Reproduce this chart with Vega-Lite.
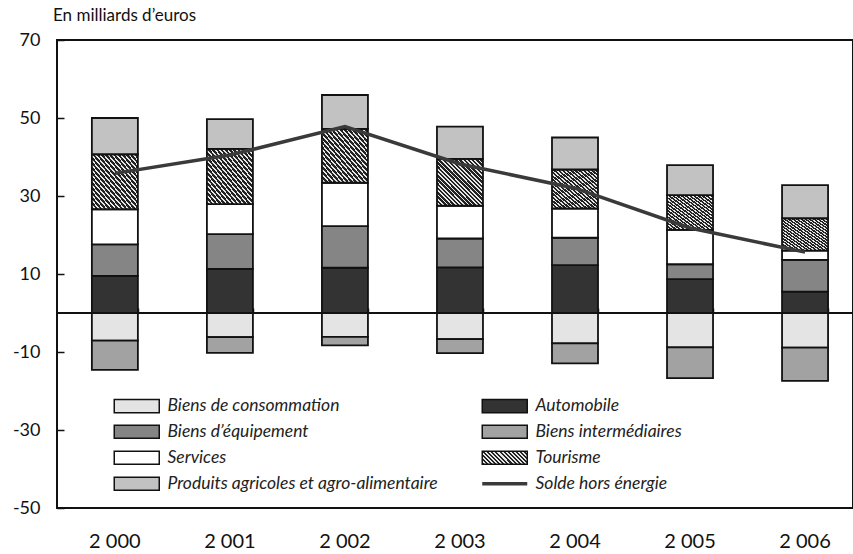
{
  "$schema": "https://vega.github.io/schema/vega-lite/v6.json",
  "width": 796,
  "height": 468,
  "autosize": {"type": "none"},
  "padding": {"left": 57, "top": 40, "right": 0, "bottom": 46},
  "background": "white",
  "config": {
    "view": {"stroke": "#111", "strokeWidth": 2},
    "font": "Lato",
    "axisY": {"grid": false, "domain": false, "tickSize": -7, "tickColor": "#111", "tickWidth": 1.5, "labelFont": "Lato", "labelFontSize": 18, "labelColor": "#111", "labelPadding": 24},
    "axisX": {"grid": false, "labelFont": "Lato", "labelFontSize": 20, "labelColor": "#111"}
  },
  "params": [
    {"name": "hatch", "value": {"gradient": "linear", "x1": 0, "y1": 1, "x2": 1, "y2": 0, "stops": [
      {"offset": 0, "color": "#222222"}, {"offset": 0.0273, "color": "#222222"}, {"offset": 0.0273, "color": "#e6e6e6"}, {"offset": 0.0455, "color": "#e6e6e6"},
      {"offset": 0.0455, "color": "#222222"}, {"offset": 0.0727, "color": "#222222"}, {"offset": 0.0727, "color": "#e6e6e6"}, {"offset": 0.0909, "color": "#e6e6e6"},
      {"offset": 0.0909, "color": "#222222"}, {"offset": 0.1182, "color": "#222222"}, {"offset": 0.1182, "color": "#e6e6e6"}, {"offset": 0.1364, "color": "#e6e6e6"},
      {"offset": 0.1364, "color": "#222222"}, {"offset": 0.1636, "color": "#222222"}, {"offset": 0.1636, "color": "#e6e6e6"}, {"offset": 0.1818, "color": "#e6e6e6"},
      {"offset": 0.1818, "color": "#222222"}, {"offset": 0.2091, "color": "#222222"}, {"offset": 0.2091, "color": "#e6e6e6"}, {"offset": 0.2273, "color": "#e6e6e6"},
      {"offset": 0.2273, "color": "#222222"}, {"offset": 0.2545, "color": "#222222"}, {"offset": 0.2545, "color": "#e6e6e6"}, {"offset": 0.2727, "color": "#e6e6e6"},
      {"offset": 0.2727, "color": "#222222"}, {"offset": 0.3, "color": "#222222"}, {"offset": 0.3, "color": "#e6e6e6"}, {"offset": 0.3182, "color": "#e6e6e6"},
      {"offset": 0.3182, "color": "#222222"}, {"offset": 0.3455, "color": "#222222"}, {"offset": 0.3455, "color": "#e6e6e6"}, {"offset": 0.3636, "color": "#e6e6e6"},
      {"offset": 0.3636, "color": "#222222"}, {"offset": 0.3909, "color": "#222222"}, {"offset": 0.3909, "color": "#e6e6e6"}, {"offset": 0.4091, "color": "#e6e6e6"},
      {"offset": 0.4091, "color": "#222222"}, {"offset": 0.4364, "color": "#222222"}, {"offset": 0.4364, "color": "#e6e6e6"}, {"offset": 0.4545, "color": "#e6e6e6"},
      {"offset": 0.4545, "color": "#222222"}, {"offset": 0.4818, "color": "#222222"}, {"offset": 0.4818, "color": "#e6e6e6"}, {"offset": 0.5, "color": "#e6e6e6"},
      {"offset": 0.5, "color": "#222222"}, {"offset": 0.5273, "color": "#222222"}, {"offset": 0.5273, "color": "#e6e6e6"}, {"offset": 0.5455, "color": "#e6e6e6"},
      {"offset": 0.5455, "color": "#222222"}, {"offset": 0.5727, "color": "#222222"}, {"offset": 0.5727, "color": "#e6e6e6"}, {"offset": 0.5909, "color": "#e6e6e6"},
      {"offset": 0.5909, "color": "#222222"}, {"offset": 0.6182, "color": "#222222"}, {"offset": 0.6182, "color": "#e6e6e6"}, {"offset": 0.6364, "color": "#e6e6e6"},
      {"offset": 0.6364, "color": "#222222"}, {"offset": 0.6636, "color": "#222222"}, {"offset": 0.6636, "color": "#e6e6e6"}, {"offset": 0.6818, "color": "#e6e6e6"},
      {"offset": 0.6818, "color": "#222222"}, {"offset": 0.7091, "color": "#222222"}, {"offset": 0.7091, "color": "#e6e6e6"}, {"offset": 0.7273, "color": "#e6e6e6"},
      {"offset": 0.7273, "color": "#222222"}, {"offset": 0.7545, "color": "#222222"}, {"offset": 0.7545, "color": "#e6e6e6"}, {"offset": 0.7727, "color": "#e6e6e6"},
      {"offset": 0.7727, "color": "#222222"}, {"offset": 0.8, "color": "#222222"}, {"offset": 0.8, "color": "#e6e6e6"}, {"offset": 0.8182, "color": "#e6e6e6"},
      {"offset": 0.8182, "color": "#222222"}, {"offset": 0.8455, "color": "#222222"}, {"offset": 0.8455, "color": "#e6e6e6"}, {"offset": 0.8636, "color": "#e6e6e6"},
      {"offset": 0.8636, "color": "#222222"}, {"offset": 0.8909, "color": "#222222"}, {"offset": 0.8909, "color": "#e6e6e6"}, {"offset": 0.9091, "color": "#e6e6e6"},
      {"offset": 0.9091, "color": "#222222"}, {"offset": 0.9364, "color": "#222222"}, {"offset": 0.9364, "color": "#e6e6e6"}, {"offset": 0.9545, "color": "#e6e6e6"},
      {"offset": 0.9545, "color": "#222222"}, {"offset": 0.9818, "color": "#222222"}, {"offset": 0.9818, "color": "#e6e6e6"}, {"offset": 1, "color": "#e6e6e6"}
    ]}},
    {"name": "hatchL", "value": {"gradient": "linear", "x1": 0, "y1": 1, "x2": 1.19, "y2": 0.656, "stops": [
      {"offset": 0, "color": "#222222"}, {"offset": 0.0357, "color": "#222222"}, {"offset": 0.0357, "color": "#e6e6e6"}, {"offset": 0.0714, "color": "#e6e6e6"},
      {"offset": 0.0714, "color": "#222222"}, {"offset": 0.1071, "color": "#222222"}, {"offset": 0.1071, "color": "#e6e6e6"}, {"offset": 0.1429, "color": "#e6e6e6"},
      {"offset": 0.1429, "color": "#222222"}, {"offset": 0.1786, "color": "#222222"}, {"offset": 0.1786, "color": "#e6e6e6"}, {"offset": 0.2143, "color": "#e6e6e6"},
      {"offset": 0.2143, "color": "#222222"}, {"offset": 0.25, "color": "#222222"}, {"offset": 0.25, "color": "#e6e6e6"}, {"offset": 0.2857, "color": "#e6e6e6"},
      {"offset": 0.2857, "color": "#222222"}, {"offset": 0.3214, "color": "#222222"}, {"offset": 0.3214, "color": "#e6e6e6"}, {"offset": 0.3571, "color": "#e6e6e6"},
      {"offset": 0.3571, "color": "#222222"}, {"offset": 0.3929, "color": "#222222"}, {"offset": 0.3929, "color": "#e6e6e6"}, {"offset": 0.4286, "color": "#e6e6e6"},
      {"offset": 0.4286, "color": "#222222"}, {"offset": 0.4643, "color": "#222222"}, {"offset": 0.4643, "color": "#e6e6e6"}, {"offset": 0.5, "color": "#e6e6e6"},
      {"offset": 0.5, "color": "#222222"}, {"offset": 0.5357, "color": "#222222"}, {"offset": 0.5357, "color": "#e6e6e6"}, {"offset": 0.5714, "color": "#e6e6e6"},
      {"offset": 0.5714, "color": "#222222"}, {"offset": 0.6071, "color": "#222222"}, {"offset": 0.6071, "color": "#e6e6e6"}, {"offset": 0.6429, "color": "#e6e6e6"},
      {"offset": 0.6429, "color": "#222222"}, {"offset": 0.6786, "color": "#222222"}, {"offset": 0.6786, "color": "#e6e6e6"}, {"offset": 0.7143, "color": "#e6e6e6"},
      {"offset": 0.7143, "color": "#222222"}, {"offset": 0.75, "color": "#222222"}, {"offset": 0.75, "color": "#e6e6e6"}, {"offset": 0.7857, "color": "#e6e6e6"},
      {"offset": 0.7857, "color": "#222222"}, {"offset": 0.8214, "color": "#222222"}, {"offset": 0.8214, "color": "#e6e6e6"}, {"offset": 0.8571, "color": "#e6e6e6"},
      {"offset": 0.8571, "color": "#222222"}, {"offset": 0.8929, "color": "#222222"}, {"offset": 0.8929, "color": "#e6e6e6"}, {"offset": 0.9286, "color": "#e6e6e6"},
      {"offset": 0.9286, "color": "#222222"}, {"offset": 0.9643, "color": "#222222"}, {"offset": 0.9643, "color": "#e6e6e6"}, {"offset": 1, "color": "#e6e6e6"}
    ]}}
  ],
  "title": {"text": "En milliards d’euros", "anchor": "start", "frame": "group", "font": "Lato", "fontSize": 17, "fontWeight": "normal", "color": "#111", "offset": 6, "dx": -4},
  "datasets": {
    "bars": [
      {"year": "2 000", "cat": "Biens de consommation", "v": -7.1},
      {"year": "2 000", "cat": "Automobile", "v": 9.5},
      {"year": "2 000", "cat": "Biens d’équipement", "v": 8.1},
      {"year": "2 000", "cat": "Biens intermédiaires", "v": -7.5},
      {"year": "2 000", "cat": "Services", "v": 9.0},
      {"year": "2 000", "cat": "Tourisme", "v": 14.1},
      {"year": "2 000", "cat": "Produits agricoles et agro-alimentaire", "v": 9.3},
      {"year": "2 001", "cat": "Biens de consommation", "v": -6.2},
      {"year": "2 001", "cat": "Automobile", "v": 11.3},
      {"year": "2 001", "cat": "Biens d’équipement", "v": 8.9},
      {"year": "2 001", "cat": "Biens intermédiaires", "v": -4.0},
      {"year": "2 001", "cat": "Services", "v": 7.7},
      {"year": "2 001", "cat": "Tourisme", "v": 14.2},
      {"year": "2 001", "cat": "Produits agricoles et agro-alimentaire", "v": 7.6},
      {"year": "2 002", "cat": "Biens de consommation", "v": -6.1},
      {"year": "2 002", "cat": "Automobile", "v": 11.6},
      {"year": "2 002", "cat": "Biens d’équipement", "v": 10.7},
      {"year": "2 002", "cat": "Biens intermédiaires", "v": -2.2},
      {"year": "2 002", "cat": "Services", "v": 11.1},
      {"year": "2 002", "cat": "Tourisme", "v": 13.8},
      {"year": "2 002", "cat": "Produits agricoles et agro-alimentaire", "v": 8.7},
      {"year": "2 003", "cat": "Biens de consommation", "v": -6.7},
      {"year": "2 003", "cat": "Automobile", "v": 11.7},
      {"year": "2 003", "cat": "Biens d’équipement", "v": 7.4},
      {"year": "2 003", "cat": "Biens intermédiaires", "v": -3.6},
      {"year": "2 003", "cat": "Services", "v": 8.4},
      {"year": "2 003", "cat": "Tourisme", "v": 12.0},
      {"year": "2 003", "cat": "Produits agricoles et agro-alimentaire", "v": 8.3},
      {"year": "2 004", "cat": "Biens de consommation", "v": -7.8},
      {"year": "2 004", "cat": "Automobile", "v": 12.3},
      {"year": "2 004", "cat": "Biens d’équipement", "v": 7.0},
      {"year": "2 004", "cat": "Biens intermédiaires", "v": -5.1},
      {"year": "2 004", "cat": "Services", "v": 7.5},
      {"year": "2 004", "cat": "Tourisme", "v": 10.0},
      {"year": "2 004", "cat": "Produits agricoles et agro-alimentaire", "v": 8.2},
      {"year": "2 005", "cat": "Biens de consommation", "v": -8.8},
      {"year": "2 005", "cat": "Automobile", "v": 8.7},
      {"year": "2 005", "cat": "Biens d’équipement", "v": 3.8},
      {"year": "2 005", "cat": "Biens intermédiaires", "v": -7.9},
      {"year": "2 005", "cat": "Services", "v": 8.8},
      {"year": "2 005", "cat": "Tourisme", "v": 8.9},
      {"year": "2 005", "cat": "Produits agricoles et agro-alimentaire", "v": 7.7},
      {"year": "2 006", "cat": "Biens de consommation", "v": -8.9},
      {"year": "2 006", "cat": "Automobile", "v": 5.5},
      {"year": "2 006", "cat": "Biens d’équipement", "v": 8.1},
      {"year": "2 006", "cat": "Biens intermédiaires", "v": -8.5},
      {"year": "2 006", "cat": "Services", "v": 2.4},
      {"year": "2 006", "cat": "Tourisme", "v": 8.3},
      {"year": "2 006", "cat": "Produits agricoles et agro-alimentaire", "v": 8.5}
    ],
    "solde": [
      {"year": "2 000", "v": 35.8},
      {"year": "2 001", "v": 40.5},
      {"year": "2 002", "v": 47.8},
      {"year": "2 003", "v": 38.2},
      {"year": "2 004", "v": 32.0},
      {"year": "2 005", "v": 21.8},
      {"year": "2 006", "v": 15.6}
    ],
    "zero": [{"v": 0}]
  },
  "layer": [
    {
      "data": {"name": "zero"},
      "mark": {"type": "rule", "stroke": "#111", "strokeWidth": 2},
      "encoding": {"y": {"field": "v", "type": "quantitative", "title": null}}
    },
    {
      "data": {"name": "bars"},
      "transform": [
        {"calculate": "indexof(['Biens de consommation','Automobile','Biens d’équipement','Biens intermédiaires','Services','Tourisme','Produits agricoles et agro-alimentaire'], datum.cat)", "as": "rank"}
      ],
      "mark": {"type": "bar", "stroke": "#111", "strokeWidth": 1.8},
      "encoding": {
        "x": {
          "field": "year", "type": "ordinal",
          "scale": {"paddingInner": 0.6, "paddingOuter": 0.26, "align": 0.583},
          "axis": {"orient": "bottom", "title": null, "domain": false, "ticks": false, "labelAngle": 0, "labelPadding": 23}
        },
        "y": {
          "field": "v", "type": "quantitative", "stack": "zero", "title": null,
          "scale": {"domain": [-50, 70], "nice": false, "zero": false},
          "axis": {"values": [-50, -30, -10, 10, 30, 50, 70], "labelExpr": "toString(datum.value)"}
        },
        "color": {
          "field": "cat", "type": "nominal",
          "condition": {"test": "datum.cat === 'Tourisme'", "value": {"expr": "hatch"}},
          "scale": {
            "domain": ["Biens de consommation", "Biens d’équipement", "Services", "Produits agricoles et agro-alimentaire", "Automobile", "Biens intermédiaires", "Tourisme", "Solde hors énergie"],
            "range": ["#e4e4e4", "#858585", "#ffffff", "#c2c2c2", "#333333", "#a2a2a2", {"expr": "hatchL"}, "#3a3a3a"]
          },
          "legend": {
            "orient": "none", "legendX": 56, "legendY": 357, "columns": 2, "title": null, "padding": 0,
            "symbolSize": 225, "symbolType": "M-3,-0.87H3V0.87H-3Z", "symbolOffset": 15,
            "symbolStrokeWidth": 1.5, "symbolStrokeColor": "#111",
            "labelFont": "Lato", "labelFontStyle": "italic", "labelFontSize": 17.5, "labelColor": "#222", "labelLimit": 400, "labelOffset": 22,
            "rowPadding": 6, "columnPadding": 37,
            "encode": {
              "symbols": {
                "update": {
                  "shape": {"signal": "datum.value === 'Solde hors énergie' ? 'M-3,0H3' : 'M-3,-0.87H3V0.87H-3Z'"},
                  "stroke": {"signal": "datum.value === 'Solde hors énergie' ? '#3a3a3a' : '#111'"},
                  "strokeWidth": {"signal": "datum.value === 'Solde hors énergie' ? 3.5 : 1.5"},
                  "opacity": {"value": 1}
                }
              }
            }
          }
        },
        "order": {"field": "rank", "type": "quantitative"}
      }
    },
    {
      "data": {"name": "solde"},
      "mark": {"type": "line", "stroke": "#3a3a3a", "strokeWidth": 3.5},
      "encoding": {
        "x": {
          "field": "year", "type": "ordinal",
          "scale": {"paddingInner": 0.6, "paddingOuter": 0.26, "align": 0.583},
          "axis": {"orient": "top", "offset": -273, "labels": false, "domain": false, "ticks": true, "tickBand": "extent", "tickSize": 5, "tickColor": "#111", "tickWidth": 1.5, "title": null}
        },
        "y": {"field": "v", "type": "quantitative", "title": null}
      }
    }
  ],
  "resolve": {"axis": {"x": "independent"}}
}
